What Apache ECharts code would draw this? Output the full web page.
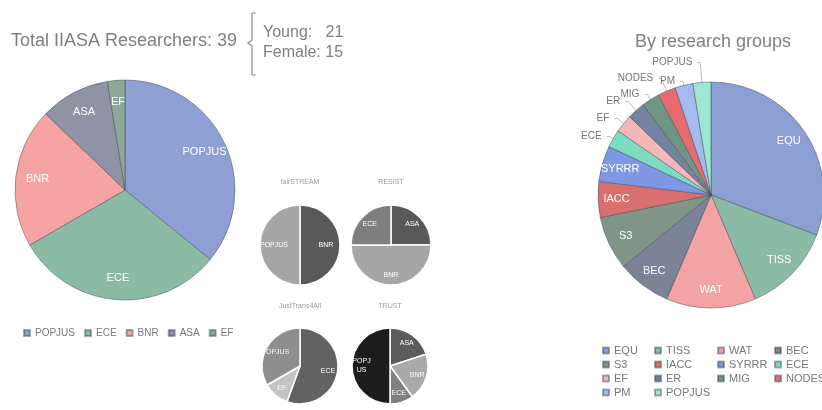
<!DOCTYPE html>
<html>
<head>
<meta charset="utf-8">
<script src="https://cdn.jsdelivr.net/npm/echarts@6/dist/echarts.min.js"></script>
<style>
  html, body { margin: 0; background: #fff; }
  #left { position: absolute; left: 0; top: 0; width: 470px; height: 410px; }
  #right { position: absolute; left: 470px; top: 0; width: 352px; height: 410px; }
</style>
</head>
<body>
<div id="left"></div>
<div id="right"></div>
<script>
// 数据
var totalResearchers = 39, youngCount = 21, femaleCount = 15;

var leftNames = ['POPJUS', 'ECE', 'BNR', 'ASA', 'EF'];
var leftValues = [14, 12, 8, 4, 1];

var projectTitles = ['fairSTREAM', 'RESIST', 'JustTrans4All', 'TRUST'];
var fairNames = ['BNR', 'POPJUS'];
var fairValues = [1, 1];
var resistNames = ['ASA', 'BNR', 'ECE'];
var resistValues = [1, 2, 1];
var justNames = ['ECE', 'EF', 'POPJUS'];
var justValues = [5, 1, 3];
var trustNames = ['ASA', 'BNR', 'ECE', 'POPJUS'];
var trustValues = [2, 2, 1, 5];

var groupNames = ['EQU', 'TISS', 'WAT', 'BEC', 'S3', 'IACC', 'SYRRR', 'ECE', 'EF', 'ER', 'MIG', 'NODES', 'PM', 'POPJUS'];
var groupValues = [12, 5, 5, 3, 3, 2, 2, 1, 1, 1, 1, 1, 1, 1];
// 外部标签和引线长度
var groupOutside = ['ECE', 'EF', 'ER', 'MIG', 'NODES', 'PM', 'POPJUS'];
var outsideLineLen = [4, 8, 12, 6, 14, 4, 20];

// 颜色
var FONT = '"Liberation Sans", Arial, sans-serif';
var leftColors = ['#8e9fd4', '#8cbba5', '#f5a3a3', '#8e94a4', '#8da897'];
var grayColors = {
  fair: ['#595959', '#a6a6a6'],
  resist: ['#595959', '#a6a6a6', '#7f7f7f'],
  just: ['#626262', '#c4c4c4', '#8e8e8e'],
  trust: ['#5c5c5c', '#a9a9a9', '#808080', '#1c1c1c']
};
var groupColors = ['#8c9fd3', '#8bbba4', '#f4a3a4', '#7b8397', '#7e9587', '#d9706f', '#7e98e6',
                   '#7ddcc0', '#f6b7b8', '#7483a0', '#6f9683', '#e86c6f', '#a4bbef', '#9ee5d2'];

function makeData(names, values, colors) {
  return names.map(function (n, i) {
    return { name: n, value: values[i], itemStyle: { color: colors[i] } };
  });
}

// 一个饼 + 一个透明环，用来把标签放得靠外一点
function pieSeries(center, r, inner, names, values, colors, border, labelStyle) {
  return [{
    type: 'pie',
    center: center,
    radius: [0, r],
    data: makeData(names, values, colors),
    label: { show: false },
    labelLine: { show: false },
    itemStyle: border,
    emphasis: { disabled: true }
  }, {
    type: 'pie',
    center: center,
    radius: [inner, r],
    silent: true,
    data: names.map(function (n, i) { return { name: n, value: values[i] }; }),
    itemStyle: { color: 'rgba(0,0,0,0)', borderWidth: 0 },
    label: Object.assign({ show: true, position: 'inside', fontFamily: FONT }, labelStyle),
    labelLine: { show: false },
    emphasis: { disabled: true }
  }];
}

var softBorder = { borderColor: 'rgba(60,65,85,0.45)', borderWidth: 1 };
var whiteBorder = { borderColor: '#fff', borderWidth: 1.5 };
var smallLabel = { color: '#fff', fontSize: 7 };

var leftChart = echarts.init(document.getElementById('left'));
leftChart.setOption({
  animation: false,
  textStyle: { fontFamily: FONT },
  graphic: [
    { type: 'text', x: 11, y: 41, style: { text: 'Total IIASA Researchers: ' + totalResearchers, fontSize: 18, fontFamily: FONT, fill: '#7f7f7f', verticalAlign: 'middle' } },
    { type: 'polyline', shape: { points: [[256, 13], [252, 13], [252, 40], [248, 43], [252, 46], [252, 75], [256, 75]] },
      style: { stroke: '#8a8a8a', lineWidth: 1.2, fill: null } },
    { type: 'text', x: 263, y: 33, style: { text: 'Young:   ' + youngCount, fontSize: 16, fontFamily: FONT, fill: '#7f7f7f', verticalAlign: 'middle' } },
    { type: 'text', x: 263, y: 53, style: { text: 'Female: ' + femaleCount, fontSize: 16, fontFamily: FONT, fill: '#7f7f7f', verticalAlign: 'middle' } },
    { type: 'text', x: 300, y: 182, style: { text: projectTitles[0], fontSize: 7, fontFamily: FONT, fill: '#9a9a9a', align: 'center', verticalAlign: 'middle' } },
    { type: 'text', x: 391, y: 182, style: { text: projectTitles[1], fontSize: 7, fontFamily: FONT, fill: '#9a9a9a', align: 'center', verticalAlign: 'middle' } },
    { type: 'text', x: 300, y: 306, style: { text: projectTitles[2], fontSize: 7, fontFamily: FONT, fill: '#9a9a9a', align: 'center', verticalAlign: 'middle' } },
    { type: 'text', x: 390, y: 306, style: { text: projectTitles[3], fontSize: 7, fontFamily: FONT, fill: '#9a9a9a', align: 'center', verticalAlign: 'middle' } }
  ],
  legend: {
    data: leftNames,
    left: 23,
    top: 328,
    padding: 0,
    icon: 'rect',
    itemWidth: 6,
    itemHeight: 6,
    itemGap: 9,
    selectedMode: false,
    textStyle: { fontSize: 10, color: '#777', fontFamily: FONT }
  },
  series: [].concat(
    pieSeries([125, 190], 110, 60, leftNames, leftValues, leftColors, softBorder, { color: '#fff', fontSize: 11 }),
    pieSeries([300, 245], 40, 6, fairNames, fairValues, grayColors.fair, whiteBorder, smallLabel),
    pieSeries([391, 245], 40, 14, resistNames, resistValues, grayColors.resist, whiteBorder, smallLabel),
    pieSeries([300, 366], 38, 13, justNames, justValues, grayColors.just, whiteBorder, smallLabel),
    pieSeries([390, 366], 38, 13, trustNames, trustValues, grayColors.trust, whiteBorder,
      { color: '#fff', fontSize: 7, width: 20, overflow: 'breakAll', lineHeight: 9 })
  )
});

var rightChart = echarts.init(document.getElementById('right'));

// 图例按 4 列排
var columns = [[], [], [], []];
groupNames.forEach(function (n, i) { columns[i % 4].push(n); });
var colLeft = [132, 184, 247, 304];

var rightSeries = pieSeries([241, 195], 113, 70, groupNames, groupValues, groupColors, softBorder, { color: '#fff', fontSize: 11 });
rightSeries[0].avoidLabelOverlap = false;
rightSeries[0].labelLayout = { hideOverlap: false };
// 小块的标签放外面
rightSeries[0].data.forEach(function (d) {
  var k = groupOutside.indexOf(d.name);
  if (k >= 0) {
    d.label = { show: true, position: 'outside', color: '#777', fontSize: 10, fontFamily: FONT };
    d.labelLine = { show: true, length: outsideLineLen[k], length2: 3, lineStyle: { color: '#aaa', width: 0.8 } };
  }
});
rightSeries[1].data.forEach(function (d) {
  if (groupOutside.indexOf(d.name) >= 0) d.label = { show: false };
});

rightChart.setOption({
  animation: false,
  textStyle: { fontFamily: FONT },
  graphic: [
    { type: 'text', x: 243, y: 42, style: { text: 'By research groups', fontSize: 18, fontFamily: FONT, fill: '#7f7f7f', align: 'center', verticalAlign: 'middle' } }
  ],
  legend: columns.map(function (col, i) {
    return {
      data: col,
      orient: 'vertical',
      left: colLeft[i],
      top: 345,
      padding: 0,
      icon: 'rect',
      itemWidth: 6,
      itemHeight: 6,
      itemGap: 3,
      selectedMode: false,
      textStyle: { fontSize: 11, color: '#777', fontFamily: FONT }
    };
  }),
  series: rightSeries
});
</script>
</body>
</html>
